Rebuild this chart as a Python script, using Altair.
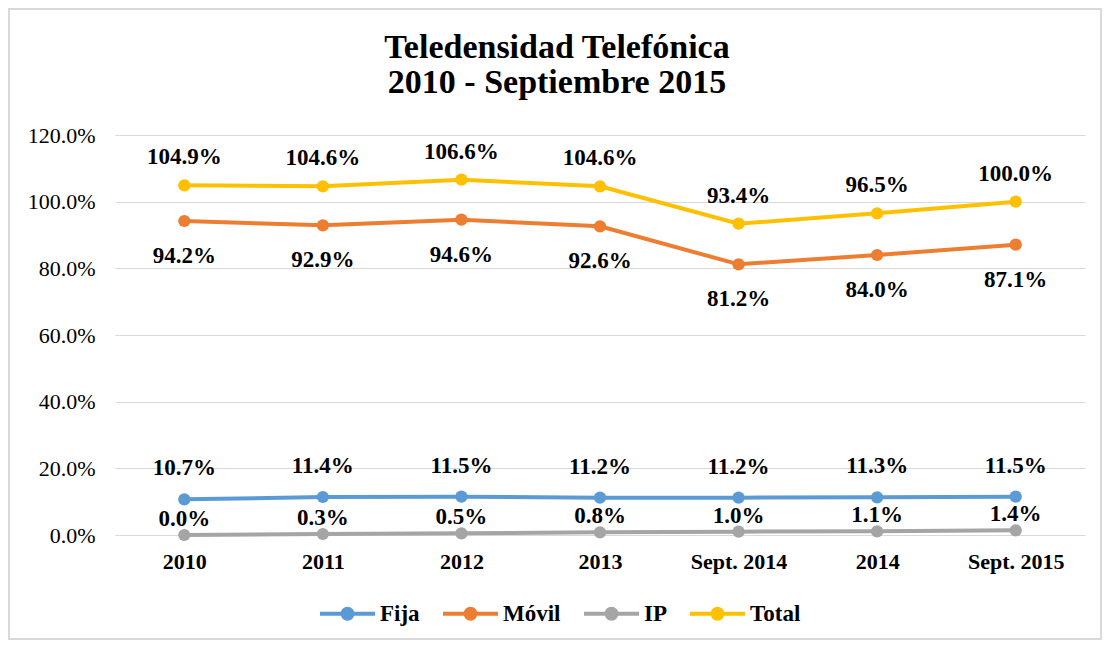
import altair as alt
import pandas as pd

categories = ["2010", "2011", "2012", "2013", "Sept. 2014", "2014", "Sept. 2015"]
series_names = ["Fija", "Móvil", "IP", "Total"]
fija = [10.7, 11.4, 11.5, 11.2, 11.2, 11.3, 11.5]
movil = [94.2, 92.9, 94.6, 92.6, 81.2, 84.0, 87.1]
ip = [0.0, 0.3, 0.5, 0.8, 1.0, 1.1, 1.4]
total = [104.9, 104.6, 106.6, 104.6, 93.4, 96.5, 100.0]
colors = ["#5B9BD5", "#ED7D31", "#A5A5A5", "#FFC000"]
y_ticks = [0, 20, 40, 60, 80, 100, 120]
title_lines = ["Teledensidad Telefónica", "2010 - Septiembre 2015"]

rows = []
for name, vals in zip(series_names, [fija, movil, ip, total]):
    for c, v in zip(categories, vals):
        rows.append({"cat": c, "series": name, "value": v})
df = pd.DataFrame(rows)

FONT = "Liberation Serif"
W, H = 970, 400

x_enc = alt.X(
    "cat:N", sort=categories,
    scale=alt.Scale(type="point", padding=0.5),
    axis=alt.Axis(title=None, labelAngle=0, labelFont=FONT, labelFontWeight="bold",
                  labelFontSize=22, labelColor="black", labelPadding=16,
                  domain=False, ticks=False, grid=False),
)
y_enc = alt.Y(
    "value:Q",
    scale=alt.Scale(domain=[0, 120], nice=False),
    axis=alt.Axis(title=None, values=y_ticks,
                  labelExpr="format(datum.value, '.1f') + '%'",
                  labelFont=FONT, labelFontSize=22, labelColor="black", labelPadding=20,
                  domain=False, ticks=False, grid=True, gridColor="#D9D9D9", gridWidth=1),
)

r1, r2 = 0.18, 0.055
def circ(r):
    return f"M{r},0A{r},{r},0,1,1,{-r},0A{r},{r},0,1,1,{r},0"
sym_path = "M-1,0L1,0" + circ(r1) + circ(r2)

stroke_scale = alt.Scale(domain=series_names, range=colors)

base = alt.Chart(df)

lines = base.mark_line(strokeWidth=4).encode(
    x=x_enc, y=y_enc,
    stroke=alt.Stroke("series:N", scale=stroke_scale, sort=series_names,
                      legend=alt.Legend(title=None, orient="none", direction="horizontal",
                                        legendX=203, legendY=449,
                                        symbolType=sym_path, symbolSize=3025,
                                        symbolStrokeWidth=4,
                                        labelFont=FONT, labelFontWeight="bold",
                                        labelFontSize=23, labelColor="black",
                                        labelOffset=3, columnPadding=15)),
    order=alt.Order("cat_idx:Q"),
).transform_calculate(
    cat_idx="indexof(" + str(categories) + ", datum.cat)"
)

points = base.mark_point(filled=True, size=150, opacity=1).encode(
    x=x_enc, y=y_enc,
    fill=alt.Fill("series:N", scale=alt.Scale(domain=series_names, range=colors), legend=None),
)

dys = {"Fija": -31, "Móvil": 35, "IP": -16, "Total": -28}
texts = []
for name in series_names:
    t = base.transform_filter(alt.datum.series == name).transform_calculate(
        lab="format(datum.value, '.1f') + '%'"
    ).mark_text(font=FONT, fontWeight="bold", fontSize=23, color="black", dy=dys[name]).encode(
        x=x_enc, y=y_enc, text="lab:N"
    )
    texts.append(t)

one = pd.DataFrame({"a": [0]})
border = alt.Chart(one).mark_rect(
    fill="transparent", stroke="#D9D9D9", strokeWidth=2
).encode(
    x=alt.value(-106), x2=alt.value(W + 16),
    y=alt.value(-126), y2=alt.value(H + 104),
)

title_y = [-77, -42]
titles = [
    alt.Chart(one).mark_text(font=FONT, fontWeight="bold", fontSize=34, color="black",
                             align="center", baseline="alphabetic").encode(
        x=alt.value(442), y=alt.value(ty), text=alt.value(tl))
    for tl, ty in zip(title_lines, title_y)
]

chart = alt.layer(border, lines, points, *texts, *titles).properties(
    width=W, height=H,
    padding={"left": 107, "top": 127, "right": 17, "bottom": 105},
    autosize=alt.AutoSizeParams(type="none"),
).configure_view(stroke=None)

chart.save("out.html", embed_options={"renderer": "svg", "actions": False})
